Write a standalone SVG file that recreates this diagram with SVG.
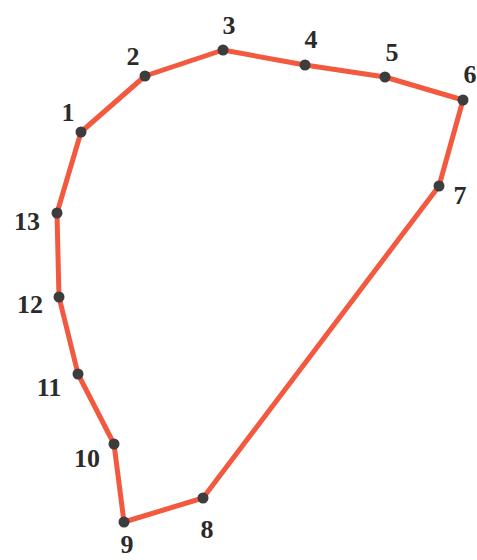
<svg xmlns="http://www.w3.org/2000/svg" width="477" height="560" viewBox="0 0 477 560">
<style>
.e{fill:none;stroke:#f2593f;stroke-width:5;stroke-linejoin:round;stroke-linecap:round}
.d{fill:#3d3d3d}
.t{font-family:"Liberation Serif","Times New Roman",serif;font-size:26px;font-weight:bold;fill:#2b2b2b;text-anchor:middle}
</style>
<rect width="477" height="560" fill="#fff"/>
<g id="connectors">
<polygon class="e" points="81,132 145,76 223,50 305,65 385,77 463,100 439,186 203,498 124,522 114,444 78,374 59,297 57,213"/>
</g>
<g id="n1"><circle class="d" cx="81" cy="132" r="5.5"/><text class="t" x="68" y="121">1</text></g>
<g id="n2"><circle class="d" cx="145" cy="76" r="5.5"/><text class="t" x="133" y="65">2</text></g>
<g id="n3"><circle class="d" cx="223" cy="50" r="5.5"/><text class="t" x="229" y="34">3</text></g>
<g id="n4"><circle class="d" cx="305" cy="65" r="5.5"/><text class="t" x="311" y="48">4</text></g>
<g id="n5"><circle class="d" cx="385" cy="77" r="5.5"/><text class="t" x="392" y="61">5</text></g>
<g id="n6"><circle class="d" cx="463" cy="100" r="5.5"/><text class="t" x="470" y="83">6</text></g>
<g id="n7"><circle class="d" cx="439" cy="186" r="5.5"/><text class="t" x="460" y="204">7</text></g>
<g id="n8"><circle class="d" cx="203" cy="498" r="5.5"/><text class="t" x="207" y="538">8</text></g>
<g id="n9"><circle class="d" cx="124" cy="522" r="5.5"/><text class="t" x="127" y="553">9</text></g>
<g id="n10"><circle class="d" cx="114" cy="444" r="5.5"/><text class="t" x="87" y="467">10</text></g>
<g id="n11"><circle class="d" cx="78" cy="374" r="5.5"/><text class="t" x="49" y="396">11</text></g>
<g id="n12"><circle class="d" cx="59" cy="297" r="5.5"/><text class="t" x="30" y="313">12</text></g>
<g id="n13"><circle class="d" cx="57" cy="213" r="5.5"/><text class="t" x="27" y="230">13</text></g>
</svg>
